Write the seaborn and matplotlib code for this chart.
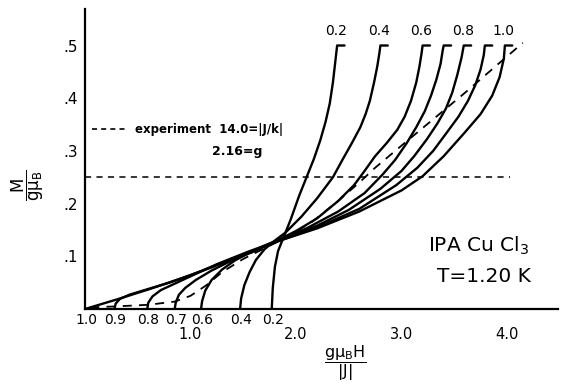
import numpy as np
import pandas as pd
import matplotlib
matplotlib.use("Agg")
import matplotlib.pyplot as plt
from matplotlib.lines import Line2D
import seaborn as sns

# ---- data ----
alphas = [0.2, 0.4, 0.6, 0.7, 0.8, 0.9, 1.0]

h_02 = [1.77, 1.78, 1.80, 1.83, 1.88, 1.95, 2.03, 2.10, 2.17, 2.23, 2.28, 2.32, 2.35, 2.37, 2.39, 2.46]
m_02 = [0.0, 0.04, 0.08, 0.11, 0.135, 0.17, 0.215, 0.25, 0.285, 0.32, 0.355, 0.39, 0.43, 0.465, 0.50, 0.50]

h_04 = [1.47, 1.48, 1.51, 1.56, 1.62, 1.70, 1.80, 1.90, 2.05, 2.20, 2.35, 2.44, 2.53, 2.61, 2.66, 2.70, 2.74, 2.77, 2.79, 2.80, 2.87]
m_04 = [0.0, 0.02, 0.045, 0.07, 0.093, 0.113, 0.13, 0.145, 0.175, 0.21, 0.25, 0.283, 0.315, 0.345, 0.37, 0.395, 0.43, 0.46, 0.485, 0.50, 0.50]

h_06 = [1.10, 1.11, 1.14, 1.20, 1.30, 1.42, 1.55, 1.70, 1.85, 2.00, 2.20, 2.40, 2.55, 2.65, 2.75, 2.86, 2.96, 3.03, 3.09, 3.14, 3.17, 3.19, 3.20, 3.27]
m_06 = [0.0, 0.015, 0.035, 0.055, 0.075, 0.092, 0.106, 0.12, 0.133, 0.148, 0.172, 0.205, 0.235, 0.262, 0.29, 0.315, 0.34, 0.365, 0.395, 0.43, 0.46, 0.485, 0.50, 0.50]

h_07 = [0.85, 0.86, 0.89, 0.95, 1.05, 1.20, 1.40, 1.60, 1.85, 2.10, 2.40, 2.65, 2.82, 2.94, 3.05, 3.14, 3.22, 3.28, 3.33, 3.37, 3.39, 3.40, 3.47]
m_07 = [0.0, 0.012, 0.027, 0.04, 0.055, 0.073, 0.093, 0.109, 0.132, 0.153, 0.185, 0.22, 0.255, 0.283, 0.315, 0.345, 0.375, 0.405, 0.435, 0.465, 0.49, 0.50, 0.50]

h_08 = [0.59, 0.60, 0.64, 0.72, 0.85, 1.00, 1.25, 1.55, 1.85, 2.20, 2.50, 2.80, 3.00, 3.12, 3.24, 3.34, 3.42, 3.48, 3.53, 3.57, 3.59, 3.66]
m_08 = [0.0, 0.012, 0.024, 0.036, 0.048, 0.062, 0.085, 0.109, 0.131, 0.158, 0.188, 0.228, 0.262, 0.29, 0.322, 0.352, 0.38, 0.41, 0.445, 0.478, 0.50, 0.50]

h_09 = [0.28, 0.29, 0.33, 0.42, 0.55, 0.80, 1.20, 1.55, 1.85, 2.20, 2.60, 2.95, 3.15, 3.30, 3.43, 3.54, 3.63, 3.70, 3.75, 3.78, 3.79, 3.86]
m_09 = [0.0, 0.01, 0.019, 0.027, 0.035, 0.05, 0.079, 0.107, 0.13, 0.155, 0.19, 0.235, 0.268, 0.30, 0.335, 0.365, 0.395, 0.425, 0.455, 0.482, 0.50, 0.50]

h_10 = [0.0, 0.30, 0.60, 1.00, 1.40, 1.85, 2.20, 2.60, 3.00, 3.20, 3.40, 3.60, 3.75, 3.86, 3.93, 3.97, 3.98, 4.05]
m_10 = [0.0, 0.018, 0.037, 0.064, 0.096, 0.13, 0.153, 0.185, 0.225, 0.252, 0.29, 0.335, 0.37, 0.405, 0.44, 0.475, 0.50, 0.50]

h_exp = [0.05, 0.30, 0.60, 0.85, 1.00, 1.15, 1.30, 1.50, 1.70, 1.90, 2.15, 2.40, 2.60, 2.75, 3.00, 3.30, 3.60, 3.90, 4.15]
m_exp = [0.003, 0.005, 0.008, 0.014, 0.025, 0.045, 0.07, 0.095, 0.115, 0.135, 0.165, 0.205, 0.24, 0.268, 0.31, 0.36, 0.41, 0.462, 0.505]

half_level = 0.25
half_h = [0.0, 4.03]

top_labels = ["0.2", "0.4", "0.6", "0.8", "1.0"]
bottom_labels = ["1.0", "0.9", "0.8", "0.7", "0.6", "0.4", "0.2"]
x_ticks = [1.0, 2.0, 3.0, 4.0]
x_ticklabels = ["1.0", "2.0", "3.0", "4.0"]
y_ticks = [0.1, 0.2, 0.3, 0.4, 0.5]
y_ticklabels = [".1", ".2", ".3", ".4", ".5"]

curves_h = [h_02, h_04, h_06, h_07, h_08, h_09, h_10]
curves_m = [m_02, m_04, m_06, m_07, m_08, m_09, m_10]

rows = []
for a, hh, mm in zip(alphas, curves_h, curves_m):
    for h, m in zip(hh, mm):
        rows.append({"alpha": a, "H": h, "M": m})
df = pd.DataFrame(rows)
df_exp = pd.DataFrame({"H": h_exp, "M": m_exp})
df_half = pd.DataFrame({"H": half_h, "M": [half_level, half_level]})

# ---- figure ----
sns.set_style("white")
plt.rcParams["font.family"] = ["DejaVu Sans"]
plt.rcParams["mathtext.fontset"] = "dejavusans"
plt.rcParams["mathtext.default"] = "regular"
plt.rcParams["text.color"] = "black"
plt.rcParams["xtick.color"] = "black"
plt.rcParams["ytick.color"] = "black"
plt.rcParams["axes.labelcolor"] = "black"

W, H = 561, 389
fig = plt.figure(figsize=(W / 100, H / 100), dpi=100)
x0px, y0px = 85, 309
sx, sy = 105.5, 527
xmax, ymax = 4.48, 0.57
ax = fig.add_axes([x0px / W, 1 - y0px / H, xmax * sx / W, ymax * sy / H])

sns.lineplot(data=df, x="H", y="M", units="alpha", estimator=None, sort=False,
             color="black", lw=1.7, ax=ax, legend=False)
sns.lineplot(data=df_exp, x="H", y="M", estimator=None, sort=False,
             color="black", lw=1.3, ax=ax, legend=False, linestyle=(0, (5, 4)))
sns.lineplot(data=df_half, x="H", y="M", estimator=None, sort=False,
             color="black", lw=1.1, ax=ax, legend=False, linestyle=(0, (4, 3.5)))

ax.set_xlim(0, xmax)
ax.set_ylim(0, ymax)
for s in ["top", "right"]:
    ax.spines[s].set_visible(False)
for s in ["left", "bottom"]:
    ax.spines[s].set_linewidth(1.6)
    ax.spines[s].set_color("black")

ax.set_xticks(x_ticks)
ax.set_xticklabels(x_ticklabels)
ax.set_yticks(y_ticks)
ax.set_yticklabels(y_ticklabels)
ax.tick_params(axis="x", direction="in", length=5, width=1.3, pad=13, labelsize=10.5,
               colors="black")
ax.tick_params(axis="y", direction="in", length=6, width=1.3, pad=5, labelsize=11,
               colors="black")
ax.set_xlabel("")
ax.set_ylabel("")

# curve labels
for lab in top_labels:
    a = float(lab)
    i = alphas.index(a)
    hc2 = curves_h[i][curves_m[i].index(0.5)]
    ax.text(hc2 - 0.01, 0.527, lab, ha="center", va="center", fontsize=10, clip_on=False)
for lab in bottom_labels:
    a = float(lab)
    i = alphas.index(a)
    hc1 = curves_h[i][0]
    ax.text(hc1 + 0.01, -0.02, lab, ha="center", va="center", fontsize=10, clip_on=False)

# axis labels
ax.text((28 - x0px) / sx, (y0px - 185) / sy, r"$\dfrac{M}{g\mu_B}$", rotation=90,
        ha="center", va="center", fontsize=12, clip_on=False)
ax.text((345 - x0px) / sx, (y0px - 363) / sy, r"$\dfrac{g\mu_B H}{|J|}$",
        ha="center", va="center", fontsize=11.5, clip_on=False)

# legend / annotations
leg = ax.legend(handles=[Line2D([], [], color="black", lw=1.2, linestyle=(0, (3, 2.5)))],
                labels=["experiment  14.0=|J/k|"], loc="center left",
                bbox_to_anchor=(0.015, (y0px - 130) / sy / ymax), frameon=False,
                handlelength=2.9, handletextpad=0.7, borderpad=0, borderaxespad=0,
                prop={"size": 8.5, "weight": "bold"})
ax.text((212 - x0px) / sx, (y0px - 152) / sy, "2.16=g", ha="left", va="center",
        fontsize=9, fontweight="bold")

ax.text((428 - x0px) / sx, (y0px - 246) / sy, r"IPA Cu Cl$_3$", ha="left", va="center",
        fontsize=14.5)
ax.text((437 - x0px) / sx, (y0px - 276) / sy, "T=1.20 K", ha="left", va="center",
        fontsize=14.5)

fig.savefig("out.png", dpi=100)
